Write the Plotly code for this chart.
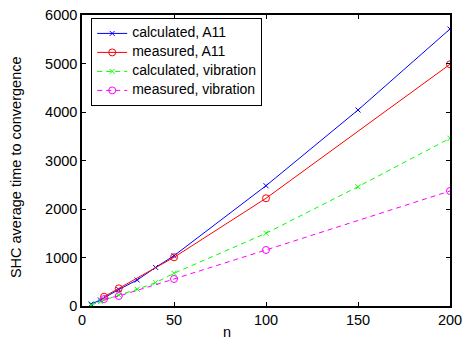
import plotly.graph_objects as go

n_calc = [5, 10, 20, 30, 40, 50, 100, 150, 200]
calc_a11 = [40, 124, 340, 536, 795, 1037, 2480, 4041, 5711]
calc_vib = [20, 89, 227, 344, 481, 674, 1499, 2460, 3458]

n_meas = [12, 20, 50, 100, 200]
meas_a11 = [192, 365, 1004, 2221, 4984]
meas_vib = [144, 206, 557, 1155, 2371]

x_ticks = [0, 50, 100, 150, 200]
y_ticks = [0, 1000, 2000, 3000, 4000, 5000, 6000]

names = ["calculated, A11", "measured, A11", "calculated, vibration", "measured, vibration"]

FONT = "Liberation Sans, Arial, Helvetica, sans-serif"
FS = 14.5


def lg(t):
    return '<span style="font-size:14px">' + t + '</span>'


fig = go.Figure()
fig.add_trace(go.Scatter(x=n_calc, y=calc_a11, mode="lines+markers", name=lg(names[0]),
                         line=dict(color="#0000ff", width=1),
                         marker=dict(symbol="x-thin", size=5, line=dict(color="#0000ff", width=1))))
fig.add_trace(go.Scatter(x=n_meas, y=meas_a11, mode="lines+markers", name=lg(names[1]),
                         line=dict(color="#ff0000", width=1),
                         marker=dict(symbol="circle-open", size=7, color="#ff0000", line=dict(width=1))))
fig.add_trace(go.Scatter(x=n_calc, y=calc_vib, mode="lines+markers", name=lg(names[2]),
                         line=dict(color="#00ff00", width=1, dash="5px,4px"),
                         marker=dict(symbol="x-thin", size=5, line=dict(color="#00ff00", width=1))))
fig.add_trace(go.Scatter(x=n_meas, y=meas_vib, mode="lines+markers", name=lg(names[3]),
                         line=dict(color="#ff00ff", width=1, dash="5px,4px"),
                         marker=dict(symbol="circle-open", size=7, color="#ff00ff", line=dict(width=1))))

axis_common = dict(showgrid=False, zeroline=False, showline=True, linecolor="black", linewidth=1.5,
                   mirror="ticks", ticks="inside", ticklen=4, tickcolor="black", tickwidth=1,
                   automargin=False,
                   tickfont=dict(family=FONT, size=FS, color="black"))

fig.update_layout(
    width=463, height=341,
    margin=dict(l=82, r=13, t=15, b=35),
    paper_bgcolor="white", plot_bgcolor="white",
    font=dict(family=FONT, size=FS, color="black"),
    showlegend=True,
    legend=dict(x=0.025, y=0.99, xanchor="left", yanchor="top",
                bgcolor="white", bordercolor="black", borderwidth=1,
                font=dict(family=FONT, size=10, color="black"),
                itemwidth=30, tracegroupgap=0),
    xaxis=dict(range=[0, 200], tickvals=x_ticks, ticktext=[str(v) for v in x_ticks], **axis_common),
    yaxis=dict(range=[0, 6000], tickvals=y_ticks, ticktext=[str(v) for v in y_ticks], **axis_common),
    annotations=[
        dict(text="n", xref="paper", yref="paper", x=0.394, y=-0.1203,
             xanchor="center", yanchor="bottom", showarrow=False, borderpad=0,
             font=dict(family=FONT, size=FS, color="black")),
        dict(text="SHC average time to convergence", xref="paper", yref="paper", x=-0.179, y=0.4777,
             xanchor="center", yanchor="middle", textangle=-90, showarrow=False,
             font=dict(family=FONT, size=FS, color="black")),
    ],
)

fig.write_html("out.html")
